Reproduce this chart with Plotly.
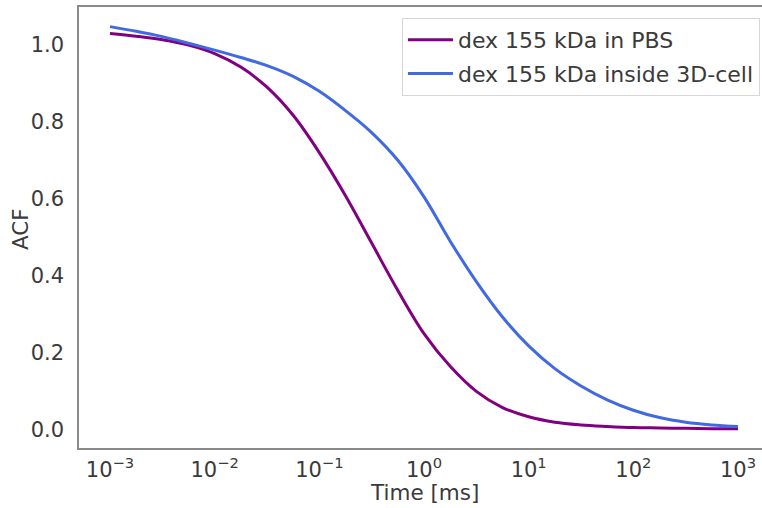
import plotly.graph_objects as go

# Lag times (log10 of ms) at which the correlation curves are sampled
log_t_pbs = [-3.0, -2.75, -2.5, -2.25, -2.0, -1.75, -1.5, -1.25, -1.0, -0.75,
             -0.5, -0.25, 0.0, 0.25, 0.5, 0.75, 1.0, 1.25, 1.5, 1.75,
             2.0, 2.25, 2.5, 2.75, 3.0]
acf_pbs = [1.029, 1.022, 1.013, 0.999, 0.977, 0.942, 0.890, 0.817, 0.720, 0.608,
           0.485, 0.362, 0.250, 0.165, 0.100, 0.058, 0.034, 0.020, 0.013, 0.009,
           0.006, 0.005, 0.004, 0.003, 0.003]

log_t_cell = [-3.0, -2.75, -2.5, -2.25, -2.0, -1.75, -1.5, -1.25, -1.0, -0.75,
              -0.5, -0.25, 0.0, 0.25, 0.5, 0.75, 1.0, 1.25, 1.5, 1.75,
              2.0, 2.25, 2.5, 2.75, 3.0]
acf_cell = [1.047, 1.035, 1.021, 1.004, 0.986, 0.967, 0.946, 0.918, 0.879, 0.829,
            0.772, 0.700, 0.605, 0.490, 0.385, 0.293, 0.218, 0.159, 0.114, 0.078,
            0.051, 0.032, 0.020, 0.013, 0.009]

series_names = ["dex 155 kDa in PBS", "dex 155 kDa inside 3D-cell"]
series_colors = ["#800080", "#4169E1"]

x_tick_vals = [1e-3, 1e-2, 1e-1, 1e0, 1e1, 1e2, 1e3]
x_tick_text = ["10<sup>\u22123</sup>", "10<sup>\u22122</sup>", "10<sup>\u22121</sup>",
               "10<sup>0</sup>", "10<sup>1</sup>", "10<sup>2</sup>", "10<sup>3</sup>"]
y_tick_vals = [0.0, 0.2, 0.4, 0.6, 0.8, 1.0]

time_pbs = [10 ** v for v in log_t_pbs]
time_cell = [10 ** v for v in log_t_cell]

text_color = "#3a3a3a"
font_family = "DejaVu Sans"

fig = go.Figure()
for i, (t, y) in enumerate([(time_pbs, acf_pbs), (time_cell, acf_cell)]):
    fig.add_trace(go.Scatter(
        x=t, y=y, mode="lines", name=series_names[i],
        legendgroup=f"g{i}",
        line=dict(color=series_colors[i], width=3, shape="spline", smoothing=1.0),
    ))

fig.update_layout(
    width=762, height=508,
    margin=dict(l=79, r=0, t=7, b=60),
    paper_bgcolor="white", plot_bgcolor="white",
    font=dict(family=font_family, color=text_color, size=21),
    showlegend=True,
    legend=dict(
        x=0.997, y=0.975, xanchor="right", yanchor="top",
        bgcolor="rgba(255,255,255,0.9)", bordercolor="#d6d6d6", borderwidth=1,
        font=dict(size=22, color=text_color, family=font_family),
        tracegroupgap=2, itemwidth=45,
    ),
    xaxis=dict(
        type="log", range=[-3.296, 3.229],
        tickvals=x_tick_vals, ticktext=x_tick_text,
        showgrid=False, zeroline=False,
        showline=True, linecolor="#8a8a8a", linewidth=1.5, mirror=True,
        ticks="", ticklabelstandoff=2,
        tickfont=dict(size=21, color=text_color),
    ),
    yaxis=dict(
        range=[-0.047, 1.098],
        tickvals=y_tick_vals,
        tickformat=".1f",
        showgrid=False, zeroline=False,
        showline=True, linecolor="#8a8a8a", linewidth=1.5, mirror=False,
        ticks="", ticklabelstandoff=9,
        tickfont=dict(size=21, color=text_color),
    ),
    annotations=[
        dict(text="Time [ms]", xref="paper", yref="paper",
             x=(424 - 79) / 683, y=-(493 - 448) / 441,
             xanchor="center", yanchor="middle", showarrow=False,
             font=dict(size=21.5, color=text_color)),
        dict(text="ACF", xref="paper", yref="paper",
             x=-(79 - 20.5) / 683, y=(448 - 229.5) / 441,
             xanchor="center", yanchor="middle", showarrow=False, textangle=-90,
             font=dict(size=21.5, color=text_color)),
    ],
)

fig.write_html("out.html")
